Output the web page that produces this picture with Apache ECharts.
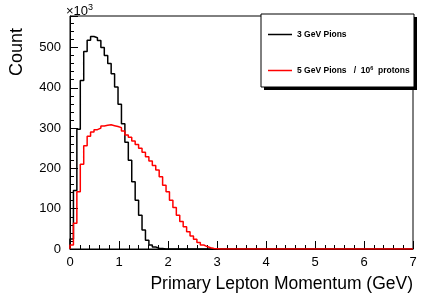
<!DOCTYPE html>
<html><head><meta charset="utf-8">
<script src="https://cdn.jsdelivr.net/npm/echarts@6/dist/echarts.min.js"></script>
<style>html,body{margin:0;padding:0;background:#fff}#c{width:436px;height:298px}</style>
</head><body><div id="c"></div>
<script>
// Histogram: 100 bins from 0 to 7 GeV (bin width 0.07), counts in units of 10^3
var xMin = 0, xMax = 7, binCount = 100;
var xTicks = [0, 1, 2, 3, 4, 5, 6, 7];
var yTicks = [0, 100, 200, 300, 400, 500];
// 3 GeV Pions (non-zero bins from 0; remaining bins are 0)
var pions3 = [25, 145, 297, 418, 490, 518, 527, 524, 517, 500, 480, 460, 435, 402, 359, 311, 265, 220, 167, 121, 84, 47, 22, 10, 5, 2, 1];
// 5 GeV Pions / 10^6 protons
var pions5 = [10, 64, 142, 210, 256, 280, 290, 296, 300, 305, 307, 308, 306, 304, 301, 293, 283, 277, 268, 259, 250, 240, 229, 218, 207, 196, 179, 158, 142, 121, 103, 84, 68, 55, 43, 32, 24, 16, 10, 6, 3, 1, 0.5];
var names = ['3 GeV Pions', '5 GeV Pions   /  10{sup|6}  protons'];

function histData(vals) {
  var w = (xMax - xMin) / binCount;
  var full = [];
  for (var i = 0; i < binCount; i++) full.push(i < vals.length ? vals[i] : 0);
  var d = [[xMin, 0]];
  for (var k = 0; k < binCount; k++) d.push([xMin + k * w, full[k]]);
  d.push([xMax, full[binCount - 1]]);
  return d;
}

var chart = echarts.init(document.getElementById('c'), null, {renderer: 'canvas'});
var font = 'Liberation Sans, Arial, Helvetica, sans-serif';
chart.setOption({
  animation: false,
  textStyle: {fontFamily: font},
  grid: {left: 70, right: 23, top: 16, bottom: 49, show: true, borderColor: '#000', borderWidth: 1, backgroundColor: 'transparent'},
  xAxis: {
    type: 'value', min: xMin, max: xMax, interval: 1,
    axisLine: {lineStyle: {color: '#000', width: 1}},
    axisTick: {inside: true, length: 8, lineStyle: {color: '#000'}},
    minorTick: {show: true, splitNumber: 5, length: 4, lineStyle: {color: '#000'}},
    splitLine: {show: false},
    axisLabel: {color: '#000', fontSize: 13, margin: 7, fontFamily: font,
      formatter: function (v) { return xTicks.indexOf(v) >= 0 ? String(v) : ''; }},
    name: 'Primary Lepton Momentum (GeV)', nameLocation: 'end', nameGap: 0,
    nameTextStyle: {fontSize: 17.5, color: '#000', align: 'right', verticalAlign: 'top', padding: [26, 0, 0, 0], fontFamily: font}
  },
  yAxis: {
    type: 'value', min: 0, max: 578, interval: 100,
    axisLine: {lineStyle: {color: '#000', width: 1}},
    axisTick: {inside: true, length: 8, lineStyle: {color: '#000'}},
    minorTick: {show: true, splitNumber: 5, length: 4, lineStyle: {color: '#000'}},
    splitLine: {show: false},
    axisLabel: {color: '#000', fontSize: 13, margin: 9, showMaxLabel: false, fontFamily: font,
      formatter: function (v) { return yTicks.indexOf(v) >= 0 ? String(v) : ''; }}
  },
  legend: {
    orient: 'vertical', left: 263, top: 25, itemGap: 26, itemWidth: 24, itemHeight: 1.5,
    icon: 'rect', z: 10,
    textStyle: {fontSize: 8.5, fontWeight: 'bold', color: '#000', fontFamily: font,
      rich: {sup: {fontSize: 5.5, fontWeight: 'bold', padding: [0, 0, 5, 0], fontFamily: font}}},
    data: [{name: names[0]}, {name: names[1]}],
    formatter: function (n) { return n; }
  },
  graphic: [
    {type: 'rect', z: 1, shape: {x: 264, y: 17, width: 153, height: 73}, style: {fill: '#000'}},
    {type: 'rect', z: 2, shape: {x: 261, y: 14, width: 153, height: 73}, style: {fill: '#fff', stroke: '#000', lineWidth: 1}},
    {type: 'text', z: 5, left: 8, top: 28, rotation: Math.PI / 2,
      style: {text: 'Count', font: '18px ' + font, fill: '#000'}},
    {type: 'text', z: 5, left: 66, top: 3,
      style: {text: '×10{s|3}', fontSize: 13, fontFamily: font, fill: '#000',
        rich: {s: {fontSize: 9, padding: [0, 0, 7, 0], fontFamily: font}}}}
  ],
  series: [
    {name: names[0], type: 'line', step: 'end', showSymbol: false, data: histData(pions3),
      lineStyle: {color: '#000', width: 1.5}, itemStyle: {color: '#000'}, z: 3},
    {name: names[1], type: 'line', step: 'end', showSymbol: false, data: histData(pions5),
      lineStyle: {color: '#ff0000', width: 1.5}, itemStyle: {color: '#ff0000'}, z: 4}
  ]
});
</script></body></html>
